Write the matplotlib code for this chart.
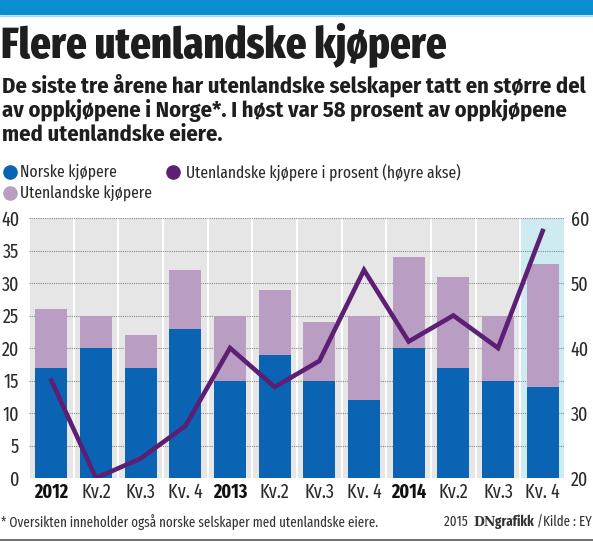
import matplotlib
matplotlib.use("Agg")
import matplotlib.pyplot as plt
import numpy as np
from matplotlib.lines import Line2D

categories = ["2012", "Kv.2", "Kv.3", "Kv. 4", "2013", "Kv.2", "Kv.3", "Kv. 4",
              "2014", "Kv.2", "Kv.3", "Kv. 4"]
norske = [17, 20, 17, 23, 15, 19, 15, 12, 20, 17, 15, 14]
utenlandske = [9, 5, 5, 9, 10, 10, 9, 13, 14, 14, 10, 19]
prosent = [35, 20, 23, 28, 40, 34, 38, 52, 41, 45, 40, 58]
left_ticks = [0, 5, 10, 15, 20, 25, 30, 35, 40]
right_ticks = [20, 30, 40, 50, 60]

COND = ["Fira Sans Condensed", "DejaVu Sans"]
XCOND = ["Fira Sans Extra Condensed", "Fira Sans Condensed", "DejaVu Sans"]
plt.rcParams["font.family"] = XCOND

BLUE = "#0b63b3"
LILAC = "#b99dc3"
PURPLE = "#5c1f74"
CELL = "#e6e6e7"
CELL_HI = "#cdebf0"
TXT = "#1e1e1e"
GREY = "#2a2a2a"

W, H = 593, 542
fig = plt.figure(figsize=(W / 100, H / 100), dpi=100)
renderer = fig.canvas.get_renderer()


def fy(py):
    return 1 - py / H


def width(t):
    return t.get_window_extent(renderer=renderer).width


def fit(t, target_w):
    t.set_fontsize(t.get_fontsize() * target_w / width(t))
    return t


# top band and rules
fig.patches.append(plt.Rectangle((0, fy(14)), 1, 14 / H, transform=fig.transFigure,
                                 color="#0b8ed1", zorder=0))
fig.add_artist(Line2D([0, 1], [fy(16), fy(16)], transform=fig.transFigure,
                      color="#a9d8f0", lw=1))
fig.add_artist(Line2D([0, 1], [fy(539.5), fy(539.5)], transform=fig.transFigure,
                      color="#555555", lw=1.2))

title = fig.text(1 / W, fy(45), "Flere utenlandske kjøpere", fontsize=29, fontweight=800,
                 family=XCOND, va="center", ha="left", color=TXT)
fit(title, 446)

sub = ["De siste tre årene har utenlandske selskaper tatt en større del",
       "av oppkjøpene i Norge*. I høst var 58 prosent av oppkjøpene",
       "med utenlandske eiere."]
s0 = fig.text(2 / W, fy(85), sub[0], fontsize=15, fontweight="bold", family=COND,
              va="center", ha="left", color=TXT)
fit(s0, 587)
for i in (1, 2):
    fig.text(2 / W, fy(85 + i * 25), sub[i], fontsize=s0.get_fontsize(), fontweight="bold",
             family=COND, va="center", ha="left", color=TXT)

# legend
lt = fig.text(20 / W, fy(172), "Norske kjøpere", fontsize=13, va="center", ha="left",
              color=GREY)
fit(lt, 97)
lsize = lt.get_fontsize()
fig.text(186 / W, fy(172), "Utenlandske kjøpere i prosent (høyre akse)", fontsize=lsize,
         va="center", ha="left", color=GREY)
fig.text(20 / W, fy(193), "Utenlandske kjøpere", fontsize=lsize, va="center", ha="left",
         color=GREY)
for cx, cy, c in [(10, 172, BLUE), (173, 172, PURPLE), (10, 193, LILAC)]:
    fig.add_artist(Line2D([cx / W], [fy(cy)], transform=fig.transFigure, marker="o",
                          markersize=9.5, color=c, linestyle="none"))

# tick label size from a sample
probe = fig.text(0, 0, "Kv.2", fontsize=13)
fit(probe, 30)
tsize = probe.get_fontsize()
probe.remove()

# axes
ax = fig.add_axes([29 / W, (H - 478) / H, (565 - 29) / W, (478 - 218) / H])
n = len(categories)
x = np.arange(n)
for i in range(n):
    ax.axvspan(i - 0.5 + 0.025, i + 0.5 - 0.025, color=CELL_HI if i == n - 1 else CELL,
               zorder=0, lw=0)
for t in left_ticks:
    ax.axhline(t, color="#8a8a8a", lw=0.8, ls=(0, (1, 1)), zorder=1)

ax.bar(x, norske, width=0.72, color=BLUE, zorder=2)
ax.bar(x, utenlandske, bottom=norske, width=0.72, color=LILAC, zorder=2)
ax.set_xlim(-0.5, n - 0.5)
ax.set_ylim(0, 40)
ax.set_yticks(left_ticks)
ax.set_yticklabels([str(t) for t in left_ticks], fontsize=tsize, color=GREY)
ax.set_xticks(x)
ax.set_xticklabels(categories, fontsize=tsize, color=GREY)
for lbl in ax.get_xticklabels():
    if lbl.get_text().isdigit():
        lbl.set_fontweight("bold")
        lbl.set_color("#111111")
ax.tick_params(axis="x", length=0, pad=3)
ax.tick_params(axis="y", length=0, pad=7)
for s in ax.spines.values():
    s.set_visible(False)

ax2 = ax.twinx()
ax2.plot(x, prosent, color=PURPLE, lw=3.3, zorder=5, solid_joinstyle="miter")
ax2.set_ylim(20, 60)
ax2.set_yticks(right_ticks)
ax2.set_yticklabels([str(t) for t in right_ticks], fontsize=tsize, color=GREY)
ax2.tick_params(axis="y", length=0, pad=4)
for s in ax2.spines.values():
    s.set_visible(False)

# footer
foot = fig.text(1 / W, fy(522), "* Oversikten inneholder også norske selskaper med utenlandske eiere.",
                fontsize=10, fontweight="normal", va="center", ha="left", color="#333333")
fit(foot, 376)
fs = foot.get_fontsize()
pieces = [("2015 ", "normal", XCOND, 1.0), ("DN", "bold", ["DejaVu Serif"], 0.9),
          ("grafikk", "bold", XCOND, 1.0), (" /Kilde : EY", "normal", XCOND, 1.0)]
xr = 592
for txt, wt, fam, k in reversed(pieces):
    p = fig.text(xr / W, fy(522), txt, fontsize=fs * k, fontweight=wt, family=fam,
                 va="center", ha="right", color="#333333")
    xr -= width(p) + (2 if txt == "DN" else 0)

fig.savefig("out.png", dpi=100)
